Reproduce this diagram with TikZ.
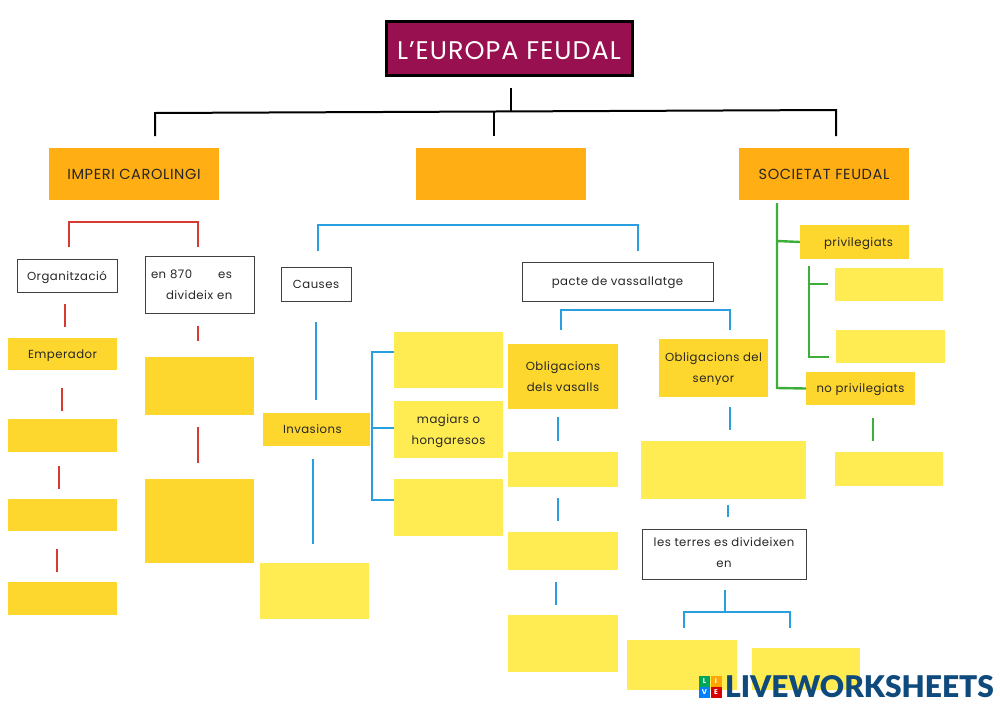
\documentclass[tikz,border=0pt]{standalone}
\usepackage{fontspec}
\setmainfont[LetterSpace=4]{Poppins}
\newfontfamily\logofont{Lato Black}
\usetikzlibrary{calc}
\definecolor{granat}{HTML}{98104F}
\definecolor{taronja}{HTML}{FFAE14}
\definecolor{grocfort}{HTML}{FED72E}
\definecolor{grocclar}{HTML}{FFEB52}
\definecolor{vermell}{HTML}{D63A30}
\definecolor{blau}{HTML}{2A9FE0}
\definecolor{verd}{HTML}{3DAE3A}
\definecolor{blaulogo}{HTML}{0F4A7D}
\tikzset{
    caixa/.style={inner sep=0pt, outer sep=0pt, align=center, text depth=0pt, text=black!85, font=\fontsize{11.7}{21}\selectfont},
    blanca/.style={caixa, draw=black!75, line width=1pt, fill=white},
    forta/.style={caixa, fill=grocfort},
    clara/.style={caixa, fill=grocclar},
    gran/.style={caixa, fill=taronja, minimum width=170pt, minimum height=52pt, font=\fontsize{14.6}{16}\selectfont},
    lin/.style={line width=2.4pt},
    rosa/.style={lin, vermell},
    cel/.style={lin, blau},
    herba/.style={lin, verd},
    negra/.style={line width=2pt, black},
    tessel/.style={inner sep=0pt, minimum size=11pt, text=white, font=\fontsize{7}{7}\selectfont\bfseries}
}
\begin{document}
\begin{tikzpicture}[x=1pt, y=-1pt]
    \useasboundingbox (0,0) rectangle (1000,707);
    \fill[white] (0,0) rectangle (1000,707);

    % titol i branques
    \node[caixa, fill=granat, draw=black, line width=3pt, minimum width=246pt, minimum height=54pt, text height=22pt, text=white, font=\fontsize{25.5}{28}\selectfont] (titol) at (509,48) {L’EUROPA FEUDAL};
    \node[gran] (imperi) at (134,174) {IMPERI CAROLINGI};
    \node[gran] (buit) at (501,174) {};
    \node[gran] (societat) at (824,174) {SOCIETAT FEUDAL};
    \coordinate (negraE) at (155,113);
    \coordinate (negraC) at (494,112);
    \coordinate (negraT) at (511,111);
    \coordinate (negraD) at (836,110);
    \draw[negra] ([shift={(2,13)}]titol.south) -- (negraT);
    \draw[negra] ([shift={(21,-12)}]imperi.north) -- (negraE) -- (negraD) -- ([shift={(12,-12)}]societat.north);
    \draw[negra] ([shift={(-7,-12)}]buit.north) -- (negraC);

    % columna vermella
    \node[blanca, minimum width=109pt, minimum height=33pt, minimum width=100pt] (organitzacio) at (67,275.5) {Organització};
    \node[blanca, minimum width=109pt, minimum height=57pt, text width=97pt, inner xsep=6pt, text depth=21pt, align=left] (en870) at (199.5,284.5) {en 870\hspace{26pt}es\\\hspace{15pt}divideix en};
    \node[forta, minimum width=109pt, minimum height=32pt] (emperador) at (62.5,354) {Emperador};
    \node[forta, minimum width=109pt, minimum height=33pt] (r2) at (62.5,435.5) {};
    \node[forta, minimum width=109pt, minimum height=32pt] (r3) at (62.5,515) {};
    \node[forta, minimum width=109pt, minimum height=33pt] (r4) at (62.5,598.5) {};
    \node[forta, minimum width=109pt, minimum height=58pt] (d1) at (199.5,386) {};
    \node[forta, minimum width=109pt, minimum height=84pt] (d2) at (199.5,521) {};
    \coordinate (vermellE) at (69,222);
    \coordinate (vermellD) at (198,222);
    \draw[rosa] ([shift={(2,-12)}]organitzacio.north) -- (vermellE) -- (vermellD) -- ([shift={(-1.5,-9)}]en870.north);
    \draw[rosa] ([shift={(-2,12)}]organitzacio.south) -- ([shift={(2.5,-11)}]emperador.north);
    \draw[rosa] ([shift={(-0.5,18)}]emperador.south) -- ([shift={(-0.5,-8)}]r2.north);
    \draw[rosa] ([shift={(-3.5,14)}]r2.south) -- ([shift={(-3.5,-10)}]r3.north);
    \draw[rosa] ([shift={(-5.5,18)}]r3.south) -- ([shift={(-5.5,-10)}]r4.north);
    \draw[rosa] ([shift={(-1.5,13)}]en870.south) -- ([shift={(-1.5,-16)}]d1.north);
    \draw[rosa] ([shift={(-1.5,12)}]d1.south) -- ([shift={(-1.5,-16)}]d2.north);

    % columna blava
    \node[blanca, minimum width=70pt, minimum height=34pt] (causes) at (316,284) {Causes};
    \node[forta, minimum width=107pt, minimum height=33pt, text width=107pt, align=left] (invasions) at (316.5,429.5) {\hspace{20pt}Invasions};
    \node[clara, minimum width=109pt, minimum height=56pt] (resultat) at (314.5,591) {};
    \node[clara, minimum width=109pt, minimum height=56pt] (inv1) at (448.5,360) {};
    \node[clara, minimum width=109pt, minimum height=57pt] (magiars) at (448.5,429.5) {magiars o\\hongaresos};
    \node[clara, minimum width=109pt, minimum height=57pt] (inv3) at (448.5,507.5) {};
    \node[blanca, minimum width=191pt, minimum height=39pt] (pacte) at (617.5,281.5) {pacte de vassallatge};
    \node[forta, minimum width=110pt, minimum height=65pt] (vasalls) at (563,376.5) {Obligacions\\dels vasalls};
    \node[forta, minimum width=109pt, minimum height=58pt] (senyor) at (713.5,368) {Obligacions del\\senyor};
    \node[clara, minimum width=110pt, minimum height=35pt] (v1) at (563,469.5) {};
    \node[clara, minimum width=110pt, minimum height=38pt] (v2) at (563,551) {};
    \node[clara, minimum width=110pt, minimum height=57pt] (v3) at (563,643.5) {};
    \node[clara, minimum width=165pt, minimum height=58pt] (s1) at (723.5,470) {};
    \node[blanca, minimum width=164pt, minimum height=50pt, text depth=3pt] (terres) at (724,554) {les terres es divideixen\\en};
    \node[clara, minimum width=110pt, minimum height=50pt] (t1) at (682,665) {};
    \node[clara, minimum width=108pt, minimum height=42pt] (t2) at (806,669) {};
    \coordinate (blauE) at (318,225);
    \coordinate (blauD) at (638,225);
    \coordinate (pacteE) at (561,310);
    \coordinate (pacteD) at (730,310);
    \coordinate (invT) at (372,352);
    \coordinate (invM) at (372,428);
    \coordinate (invB) at (372,500);
    \coordinate (terresE) at (684,612);
    \coordinate (terresD) at (790,612);
    \coordinate (terresM) at (725,612);
    \draw[cel] ([shift={(2,-16)}]causes.north) -- (blauE) -- (blauD) -- ([shift={(20.5,-11)}]pacte.north);
    \draw[cel] ([shift={(0,21)}]causes.south) -- ([shift={(-0.5,-13)}]invasions.north);
    \draw[cel] ([shift={(-3.5,13)}]invasions.south) -- ([shift={(-1.5,-19)}]resultat.north);
    \draw[cel] ([shift={(0,-8)}]inv1.west) -- (invT) -- (invB) -- ([shift={(0,-7.5)}]inv3.west);
    \draw[cel] (invM) -- ([shift={(0,-1.5)}]magiars.west);
    \draw[cel] ([shift={(-2,-14)}]vasalls.north) -- (pacteE) -- (pacteD) -- ([shift={(16.5,-9)}]senyor.north);
    \draw[cel] ([shift={(-5,8)}]vasalls.south) -- ([shift={(-5,-11)}]v1.north);
    \draw[cel] ([shift={(-5,11)}]v1.south) -- ([shift={(-5,-11)}]v2.north);
    \draw[cel] ([shift={(-7,12)}]v2.south) -- ([shift={(-7,-10)}]v3.north);
    \draw[cel] ([shift={(16.5,10)}]senyor.south) -- ([shift={(6.5,-11)}]s1.north);
    \draw[cel] ([shift={(4.5,6)}]s1.south) -- ([shift={(4,-12)}]terres.north);
    \draw[cel] ([shift={(1,11)}]terres.south) -- (terresM);
    \draw[cel] ([shift={(2,-12)}]t1.north) -- (terresE) -- (terresD) -- ([shift={(-16,-20)}]t2.north);

    % columna verda
    \node[forta, minimum width=109pt, minimum height=34pt] (privilegiats) at (854.5,242) {\hspace{8pt}privilegiats};
    \node[clara, minimum width=108pt, minimum height=33pt] (p1) at (889,284.5) {};
    \node[clara, minimum width=109pt, minimum height=33pt] (p2) at (890.5,346.5) {};
    \node[forta, minimum width=109pt, minimum height=33pt] (noprivilegiats) at (860.5,388.5) {no privilegiats};
    \node[clara, minimum width=108pt, minimum height=34pt] (n1) at (889,469) {};
    \coordinate (verdT) at (809,266);
    \coordinate (verdB) at (809,357);
    \coordinate (verdM) at (809,284);
    \coordinate (verdA) at (777,241);
    \coordinate (verdC) at (777,388);
    \draw[herba] ([shift={(-47,3)}]societat.south) -- (verdC) -- (noprivilegiats.west);
    \draw[herba] (verdA) -- (privilegiats.west);
    \draw[herba] (verdT) -- (verdB) -- ([shift={(-7,10.5)}]p2.west);
    \draw[herba] (verdM) -- ([shift={(-7,-0.5)}]p1.west);
    \draw[herba] ([shift={(12.5,13)}]noprivilegiats.south) -- ([shift={(-16,-11)}]n1.north);

    % segell
    \node[tessel, fill=teal!70!green] (logoL) at (704.5,681.5) {L};
    \node[tessel, fill=orange!70!yellow] (logoI) at (716,681.5) {I};
    \node[tessel, fill=blue!50!cyan] (logoV) at (704.5,692.5) {V};
    \node[tessel, fill=red!85!black] (logoE) at (716,692.5) {E};
    \node[inner sep=0pt, anchor=west, text=blaulogo, font=\logofont\fontsize{29.9}{30}\selectfont] (logo) at (725,686.5) {LIVEWORKSHEETS};
\end{tikzpicture}
\end{document}
